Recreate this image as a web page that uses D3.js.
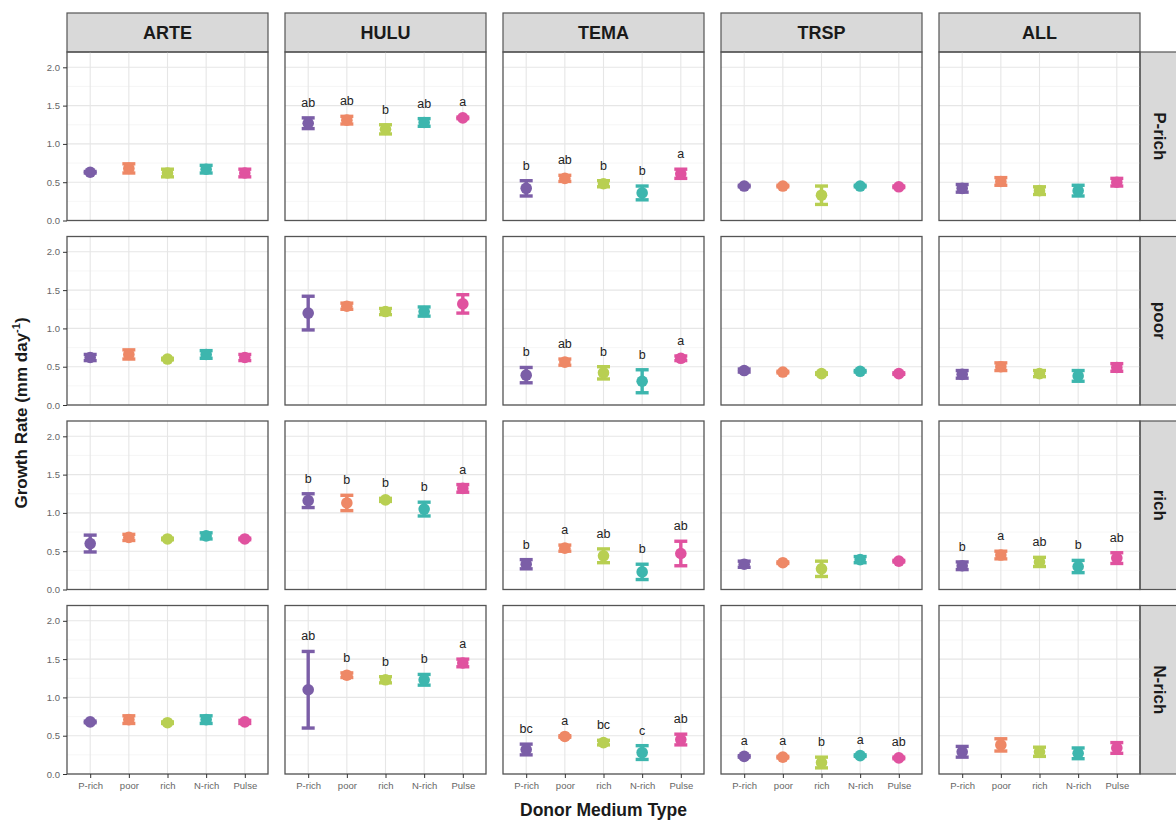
<!DOCTYPE html>
<html>
<head>
<meta charset="utf-8">
<script src="https://cdn.jsdelivr.net/npm/d3@7"></script>
<style>
  html, body { margin: 0; padding: 0; background: #fff; }
  svg { display: block; font-family: "Liberation Sans", Arial, sans-serif; }
</style>
</head>
<body>
<svg id="chart" width="1176" height="820"></svg>
<script>
// Facet columns (recipient species) and rows (recipient medium)
const species = ["ARTE", "HULU", "TEMA", "TRSP", "ALL"];
const recipientMedia = ["P-rich", "poor", "rich", "N-rich"];
// Donor medium types on the x axis
const donors = ["P-rich", "poor", "rich", "N-rich", "Pulse"];
const donorColors = ["#7b5ea7", "#ee8866", "#b8cf52", "#3db6ae", "#e0529f"];
const yTicks = [0, 0.5, 1.0, 1.5, 2.0];

// Mean growth rate (mm day^-1); one row per recipient medium, one value per donor
const arteMean = [
  [0.63, 0.68, 0.62, 0.67, 0.62],
  [0.62, 0.66, 0.60, 0.66, 0.62],
  [0.60, 0.68, 0.66, 0.70, 0.66],
  [0.68, 0.71, 0.67, 0.71, 0.68]
];
const arteSE = [
  [0.01, 0.06, 0.05, 0.05, 0.05],
  [0.04, 0.06, 0.01, 0.05, 0.04],
  [0.11, 0.04, 0.01, 0.04, 0.01],
  [0.01, 0.05, 0.01, 0.05, 0.02]
];
const huluMean = [
  [1.27, 1.31, 1.19, 1.28, 1.34],
  [1.20, 1.29, 1.22, 1.22, 1.32],
  [1.16, 1.13, 1.17, 1.05, 1.32],
  [1.10, 1.29, 1.23, 1.23, 1.45]
];
const huluSE = [
  [0.07, 0.05, 0.06, 0.05, 0.01],
  [0.22, 0.04, 0.04, 0.06, 0.12],
  [0.09, 0.10, 0.02, 0.09, 0.05],
  [0.50, 0.03, 0.04, 0.07, 0.05]
];
const temaMean = [
  [0.42, 0.55, 0.48, 0.36, 0.61],
  [0.39, 0.56, 0.42, 0.31, 0.61],
  [0.33, 0.54, 0.44, 0.23, 0.47],
  [0.32, 0.49, 0.41, 0.28, 0.45]
];
const temaSE = [
  [0.10, 0.04, 0.04, 0.09, 0.06],
  [0.10, 0.04, 0.08, 0.15, 0.03],
  [0.06, 0.04, 0.09, 0.10, 0.16],
  [0.07, 0.01, 0.03, 0.09, 0.07]
];
const trspMean = [
  [0.45, 0.45, 0.33, 0.45, 0.44],
  [0.45, 0.43, 0.41, 0.44, 0.41],
  [0.33, 0.35, 0.27, 0.39, 0.37],
  [0.23, 0.22, 0.15, 0.24, 0.21]
];
const trspSE = [
  [0.01, 0.01, 0.12, 0.01, 0.01],
  [0.02, 0.01, 0.01, 0.01, 0.01],
  [0.04, 0.01, 0.10, 0.04, 0.01],
  [0.01, 0.01, 0.07, 0.01, 0.01]
];
const allMean = [
  [0.42, 0.51, 0.39, 0.39, 0.50],
  [0.40, 0.50, 0.41, 0.38, 0.49],
  [0.31, 0.45, 0.36, 0.30, 0.41],
  [0.29, 0.38, 0.29, 0.27, 0.34]
];
const allSE = [
  [0.05, 0.05, 0.05, 0.07, 0.05],
  [0.05, 0.05, 0.04, 0.07, 0.05],
  [0.05, 0.05, 0.06, 0.08, 0.07],
  [0.07, 0.08, 0.06, 0.07, 0.07]
];

// Post-hoc grouping letters (null where no test was shown)
const arteLetters = [null, null, null, null];
const huluLetters = [
  ["ab", "ab", "b", "ab", "a"],
  null,
  ["b", "b", "b", "b", "a"],
  ["ab", "b", "b", "b", "a"]
];
const temaLetters = [
  ["b", "ab", "b", "b", "a"],
  ["b", "ab", "b", "b", "a"],
  ["b", "a", "ab", "b", "ab"],
  ["bc", "a", "bc", "c", "ab"]
];
const trspLetters = [null, null, null, ["a", "a", "b", "a", "ab"]];
const allLetters = [null, null, ["b", "a", "ab", "b", "ab"], null];

const means = [arteMean, huluMean, temaMean, trspMean, allMean];
const ses = [arteSE, huluSE, temaSE, trspSE, allSE];
const letters = [arteLetters, huluLetters, temaLetters, trspLetters, allLetters];

// ---- layout ----
const svg = d3.select("#chart");
const plotLeft = 67, plotRight = 1140, plotTop = 52, plotBottom = 774;
const gapX = 17, gapY = 16;
const stripH = 39, stripW = 40;
const panelW = (plotRight - plotLeft - gapX * (species.length - 1)) / species.length;
const panelH = (plotBottom - plotTop - gapY * (recipientMedia.length - 1)) / recipientMedia.length;

const x = d3.scalePoint().domain(donors).range([0, panelW]).padding(0.6);
const y = d3.scaleLinear().domain([0, 2.2]).range([panelH, 0]);
const color = d3.scaleOrdinal().domain(donors).range(donorColors);
const minorTicks = d3.range(0.25, 2.2, 0.5);

const borderCol = "#555";

// Column strips
species.forEach((sp, i) => {
  const gx = plotLeft + i * (panelW + gapX);
  const g = svg.append("g").attr("transform", `translate(${gx},${plotTop - stripH})`);
  g.append("rect").attr("width", panelW).attr("height", stripH)
    .attr("fill", "#d9d9d9").attr("stroke", borderCol).attr("stroke-width", 1.2);
  g.append("text").attr("x", panelW / 2).attr("y", stripH / 2 + 6.5)
    .attr("text-anchor", "middle").attr("font-size", 18).attr("font-weight", "bold")
    .attr("fill", "#1a1a1a").text(sp);
});

// Row strips
recipientMedia.forEach((rm, j) => {
  const gy = plotTop + j * (panelH + gapY);
  const g = svg.append("g").attr("transform", `translate(${plotRight},${gy})`);
  g.append("rect").attr("width", stripW).attr("height", panelH)
    .attr("fill", "#d9d9d9").attr("stroke", borderCol).attr("stroke-width", 1.2);
  g.append("text")
    .attr("transform", `translate(${stripW / 2 - 6},${panelH / 2}) rotate(90)`)
    .attr("text-anchor", "middle").attr("font-size", 17).attr("font-weight", "bold")
    .attr("fill", "#1a1a1a").text(rm);
});

// Panels
species.forEach((sp, i) => {
  recipientMedia.forEach((rm, j) => {
    const gx = plotLeft + i * (panelW + gapX);
    const gy = plotTop + j * (panelH + gapY);
    const g = svg.append("g").attr("transform", `translate(${gx},${gy})`);

    // grid
    g.selectAll(".minor").data(minorTicks).join("line")
      .attr("x1", 0).attr("x2", panelW).attr("y1", d => y(d)).attr("y2", d => y(d))
      .attr("stroke", "#f2f2f2").attr("stroke-width", 0.7);
    g.selectAll(".majorY").data(yTicks).join("line")
      .attr("x1", 0).attr("x2", panelW).attr("y1", d => y(d)).attr("y2", d => y(d))
      .attr("stroke", "#e6e6e6").attr("stroke-width", 1.1);
    g.selectAll(".majorX").data(donors).join("line")
      .attr("x1", d => x(d)).attr("x2", d => x(d)).attr("y1", 0).attr("y2", panelH)
      .attr("stroke", "#e6e6e6").attr("stroke-width", 1.1);

    const rows = donors.map((d, k) => ({
      donor: d,
      mean: means[i][j][k],
      se: ses[i][j][k],
      letter: letters[i][j] ? letters[i][j][k] : null
    }));

    // error bars
    const capHalf = 6.5;
    const eb = g.selectAll(".eb").data(rows).join("g")
      .attr("stroke", d => color(d.donor)).attr("stroke-width", 3.4);
    eb.append("line")
      .attr("x1", d => x(d.donor)).attr("x2", d => x(d.donor))
      .attr("y1", d => y(d.mean - d.se)).attr("y2", d => y(d.mean + d.se));
    eb.append("line")
      .attr("x1", d => x(d.donor) - capHalf).attr("x2", d => x(d.donor) + capHalf)
      .attr("y1", d => y(d.mean - d.se)).attr("y2", d => y(d.mean - d.se));
    eb.append("line")
      .attr("x1", d => x(d.donor) - capHalf).attr("x2", d => x(d.donor) + capHalf)
      .attr("y1", d => y(d.mean + d.se)).attr("y2", d => y(d.mean + d.se));

    // points
    g.selectAll(".pt").data(rows).join("circle")
      .attr("cx", d => x(d.donor)).attr("cy", d => y(d.mean)).attr("r", 5.8)
      .attr("fill", d => color(d.donor));

    // grouping letters
    g.selectAll(".lab").data(rows.filter(d => d.letter)).join("text")
      .attr("x", d => x(d.donor)).attr("y", d => y(d.mean + d.se) - 11)
      .attr("text-anchor", "middle").attr("font-size", 12.5).attr("fill", "#222")
      .text(d => d.letter);

    // border
    g.append("rect").attr("width", panelW).attr("height", panelH)
      .attr("fill", "none").attr("stroke", borderCol).attr("stroke-width", 1.3);

    // y axis on first column
    if (i === 0) {
      const ya = g.append("g").call(d3.axisLeft(y).tickValues(yTicks).tickFormat(d3.format(".1f")).tickSize(4).tickPadding(3));
      ya.select(".domain").remove();
      ya.selectAll("line").attr("stroke", "#333").attr("stroke-width", 1);
      ya.selectAll("text").attr("font-size", 9.5).attr("fill", "#666")
        .attr("font-family", "Liberation Sans, Arial, sans-serif");
    }
    // x axis on bottom row
    if (j === recipientMedia.length - 1) {
      const xa = g.append("g").attr("transform", `translate(0,${panelH})`)
        .call(d3.axisBottom(x).tickSize(4).tickPadding(4));
      xa.select(".domain").remove();
      xa.selectAll("line").attr("stroke", "#333").attr("stroke-width", 1);
      xa.selectAll("text").attr("font-size", 9.5).attr("fill", "#666")
        .attr("font-family", "Liberation Sans, Arial, sans-serif");
    }
  });
});

// Axis titles
svg.append("text")
  .attr("x", (plotLeft + plotRight) / 2).attr("y", 816)
  .attr("text-anchor", "middle").attr("font-size", 17.5).attr("font-weight", "bold")
  .attr("fill", "#1a1a1a").text("Donor Medium Type");

const yt = svg.append("text")
  .attr("transform", `translate(27,${(plotTop + plotBottom) / 2}) rotate(-90)`)
  .attr("text-anchor", "middle").attr("font-size", 17).attr("font-weight", "bold")
  .attr("fill", "#1a1a1a");
yt.append("tspan").text("Growth Rate (mm day");
yt.append("tspan").attr("font-size", 11).attr("dy", -7).text("-1");
yt.append("tspan").attr("dy", 7).text(")");
</script>
</body>
</html>
